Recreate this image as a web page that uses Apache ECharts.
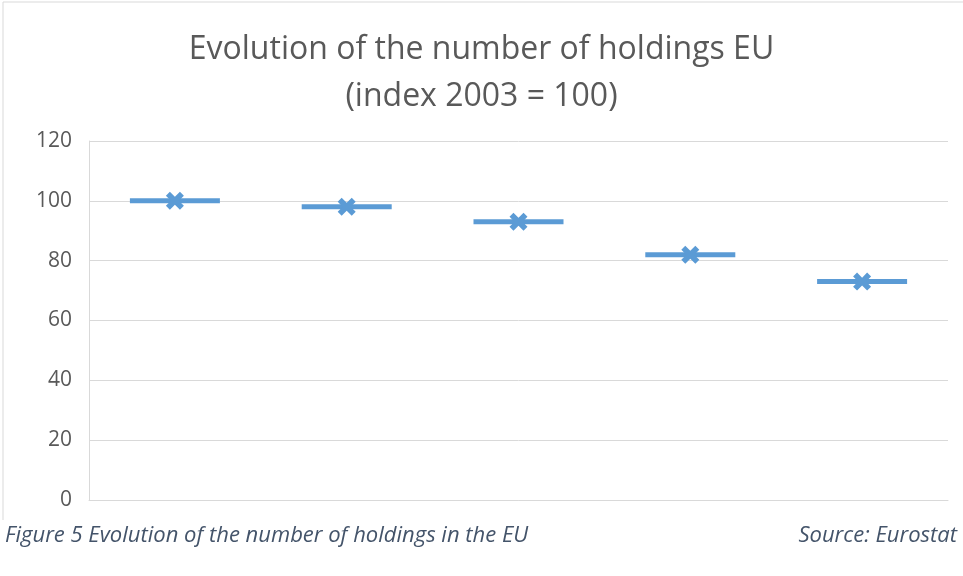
<!DOCTYPE html>
<html>
<head>
<meta charset="utf-8">
<script src="https://cdn.jsdelivr.net/npm/echarts@6/dist/echarts.min.js"></script>
<style>
  html, body { margin: 0; padding: 0; background: #fff; }
  #chart { width: 963px; height: 576px; }
</style>
</head>
<body>
<div id="chart"></div>
<script>
  // data
  const categories = ['2003', '2005', '2007', '2010', '2013'];
  const indexValues = [100, 98, 93, 82, 73];
  const yTicks = { min: 0, max: 120, interval: 20 };

  const blue = '#5B9BD5';
  const grey = '#595959';
  const xPath = 'path://M0,2.2 L2.2,0 L5,2.8 L7.8,0 L10,2.2 L7.2,5 L10,7.8 L7.8,10 L5,7.2 L2.2,10 L0,7.8 L2.8,5 Z';

  const chart = echarts.init(document.getElementById('chart'));
  const option = {
    animation: false,
    title: {
      text: 'Evolution of the number of holdings EU\n(index 2003 = 100)',
      left: 'center',
      top: 21,
      textStyle: {
        fontFamily: 'Open Sans',
        fontWeight: 'normal',
        fontSize: 32,
        lineHeight: 47,
        color: grey
      }
    },
    graphic: [
      { type: 'line', shape: { x1: 3, y1: 2, x2: 963, y2: 2 }, style: { stroke: '#d9d9d9', lineWidth: 1 } },
      { type: 'line', shape: { x1: 3, y1: 2, x2: 3, y2: 520 }, style: { stroke: '#d9d9d9', lineWidth: 1 } },
      {
        type: 'text', left: 5, top: 525,
        style: { text: 'Figure 5 Evolution of the number of holdings in the EU', fontFamily: 'Open Sans', fontStyle: 'italic', fontSize: 22, fill: '#44546A' }
      },
      {
        type: 'text', right: 6, top: 525,
        style: { text: 'Source: Eurostat', fontFamily: 'Open Sans', fontStyle: 'italic', fontSize: 22, fill: '#44546A' }
      }
    ],
    grid: { left: 89, right: 15, top: 141, bottom: 76 },
    xAxis: {
      type: 'category',
      data: categories,
      axisLine: { show: true, lineStyle: { color: '#d9d9d9', width: 1 } },
      axisTick: { show: false },
      axisLabel: { show: false },
      splitLine: { show: false }
    },
    yAxis: {
      type: 'value',
      min: yTicks.min,
      max: yTicks.max,
      interval: yTicks.interval,
      axisLine: { show: true, lineStyle: { color: '#d9d9d9', width: 1 } },
      axisTick: { show: false },
      axisLabel: { color: grey, fontSize: 21, fontFamily: 'Open Sans', margin: 17 },
      splitLine: { lineStyle: { color: '#d9d9d9', width: 1 } }
    },
    series: [
      {
        type: 'scatter',
        data: indexValues,
        symbol: 'rect',
        symbolSize: [90, 5],
        itemStyle: { color: blue, opacity: 1 },
        z: 2
      },
      {
        type: 'scatter',
        data: indexValues,
        symbol: xPath,
        symbolSize: 18,
        itemStyle: { color: blue, opacity: 1 },
        z: 3
      }
    ]
  };
  chart.setOption(option);
</script>
</body>
</html>
